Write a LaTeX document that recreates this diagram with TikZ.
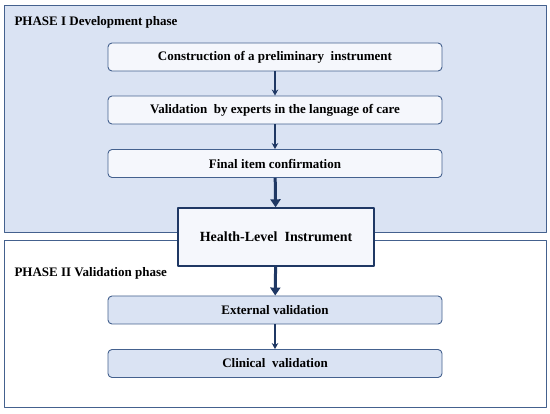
\documentclass[tikz,border=0pt]{standalone}
\usepackage{fontspec}
\setmainfont{Liberation Serif}
\usetikzlibrary{arrows.meta}
\definecolor{phaseblue}{HTML}{DAE3F3}
\definecolor{edgeblue}{HTML}{44618E}
\definecolor{navy}{HTML}{1F3864}
\definecolor{paleblue}{HTML}{F5F7FC}
\begin{document}
\begin{tikzpicture}[x=1pt, y=-1pt, line join=round, >=Stealth]
				\tikzset{
					phasebox/.style={draw=edgeblue, line width=1pt},
					phaselabel/.style={anchor=west, font=\bfseries\fontsize{13}{15}\selectfont},
					stepbox/.style={draw=edgeblue, rounded corners=4pt, line width=0.9pt, minimum width=334pt, minimum height=28pt, inner sep=0pt, font=\bfseries\fontsize{13}{15}\selectfont},
					thinarrow/.style={-{Stealth[length=6pt,width=6.5pt]}, navy, line width=1.2pt},
					thickarrow/.style={-{Triangle[length=8pt,width=10pt]}, navy, line width=3pt}
				}
				\useasboundingbox (0,0) rectangle (550,414);
				\fill[white] (0,0) rectangle (550,414);
				\draw[phasebox, fill=phaseblue] (4,6) rectangle (546,233);
				\draw[phasebox, fill=white] (4,241) rectangle (546,408);
				\node[phaselabel] (phaseone) at (11,22) {PHASE I Development phase};
				\node[phaselabel] (phasetwo) at (11,273) {PHASE II Validation phase};
				\node[stepbox, fill=paleblue] (construct) at (275,57) {Construction of a preliminary\ \ instrument};
				\node[stepbox, fill=paleblue] (experts) at (275,110) {Validation\ \ by experts in the language of care};
				\node[stepbox, fill=paleblue] (final) at (275,163.5) {Final item confirmation};
				\node[draw=navy, line width=1.4pt, fill=paleblue, minimum width=196pt, minimum height=58pt, inner sep=0pt, font=\bfseries\fontsize{14}{16}\selectfont] (health) at (276,237) {Health-Level\ \ Instrument};
				\node[stepbox, fill=phaseblue] (external) at (275,310) {External validation};
				\node[stepbox, fill=phaseblue] (clinical) at (275,363.5) {Clinical\ \ validation};
				\draw[thinarrow] (construct) -- (experts);
				\draw[thinarrow] (experts) -- (final);
				\draw[thickarrow] (final) -- (health);
				\draw[thickarrow] (health) -- (external);
				\draw[thinarrow] (external) -- (clinical);
		\end{tikzpicture}
\end{document}
